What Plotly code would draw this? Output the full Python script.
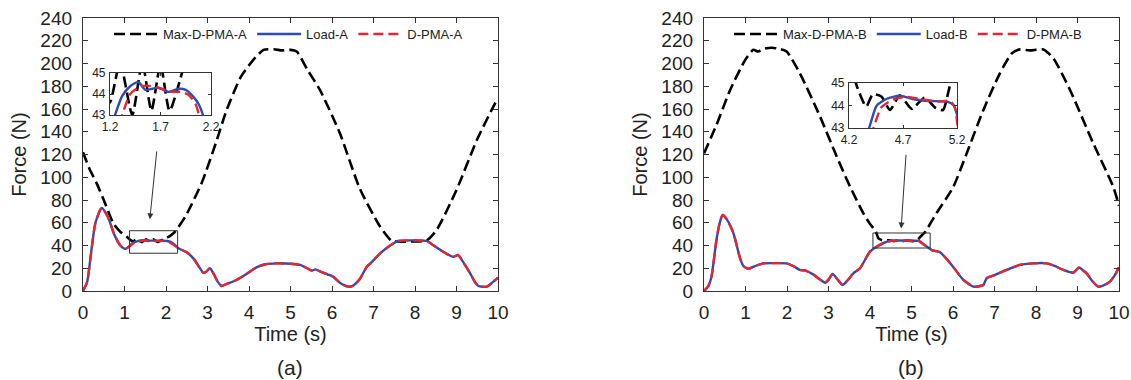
import plotly.graph_objects as go

# ---------------- data ----------------
# Panel (a)
t_load_a = [0.0, 0.1, 0.2, 0.3, 0.45, 0.6, 0.75, 0.9, 1.02, 1.12, 1.2, 1.25, 1.32, 1.4, 1.48, 1.55,
            1.62, 1.68, 1.78, 1.88, 1.95, 2.02, 2.08, 2.12, 2.2, 2.3, 2.5, 2.66, 2.8, 2.9, 2.97,
            3.06, 3.15, 3.25, 3.34, 3.45, 3.7, 3.9, 4.18, 4.4, 4.67, 5.0, 5.23, 5.4, 5.51, 5.6,
            5.75, 5.9, 6.03, 6.2, 6.39, 6.5, 6.6, 6.67, 6.84, 6.92, 7.16, 7.4, 7.6, 7.9, 8.28,
            8.45, 8.64, 8.8, 8.92, 9.04, 9.15, 9.33, 9.45, 9.53, 9.73, 9.85, 10.0]
load_a = [0, 8, 35, 60, 73, 65, 50, 40, 37, 39.5, 42.2, 43.0, 43.9, 44.37, 44.57, 44.2,
          44.25, 44.3, 44.1, 44.25, 44.2, 43.9, 43.5, 43.0, 41.0, 37.5, 34, 28.7, 21, 16, 17,
          20, 15, 8, 4.4, 6, 9.7, 14, 20.8, 23.5, 24.3, 24, 22.9, 20, 17.9, 19,
          16.5, 14.5, 12.6, 7, 3.8, 4.5, 7.5, 10.5, 21.4, 24, 33, 40, 44, 44.5, 44,
          40, 35.4, 32, 30, 31.6, 26, 15.5, 7.5, 4.4, 3.8, 7, 11.7]

t_dpma_a = [0.0, 0.1, 0.2, 0.3, 0.45, 0.6, 0.75, 0.9, 1.02, 1.12, 1.2, 1.25, 1.32, 1.4, 1.5, 1.57,
            1.7, 1.82, 1.9, 1.98, 2.05, 2.08, 2.15, 2.3, 2.5, 2.66, 2.8, 2.9, 2.97,
            3.06, 3.15, 3.25, 3.34, 3.45, 3.7, 3.9, 4.18, 4.4, 4.67, 5.0, 5.23, 5.4, 5.51, 5.6,
            5.75, 5.9, 6.03, 6.2, 6.39, 6.5, 6.6, 6.67, 6.84, 6.92, 7.16, 7.4, 7.6, 7.9, 8.28,
            8.45, 8.64, 8.8, 8.92, 9.04, 9.15, 9.33, 9.45, 9.53, 9.73, 9.85, 10.0]
dpma_a = [0, 8, 35, 60, 73, 65, 50, 40, 37, 39.2, 41.5, 42.2, 43.0, 44.0, 44.35, 44.4,
          44.27, 44.1, 44.1, 43.95, 43.5, 43.0, 41.3, 37.5, 34, 28.7, 21, 16, 17,
          20, 15, 8, 4.4, 6, 9.7, 14, 20.8, 23.5, 24.3, 24, 22.9, 20, 17.9, 19,
          16.5, 14.5, 12.6, 7, 3.8, 4.5, 7.5, 10.5, 21.4, 24, 33, 40, 44, 44.5, 44,
          40, 35.4, 32, 30, 31.6, 26, 15.5, 7.5, 4.4, 3.8, 7, 11.7]

t_max_a = [0.0, 0.15, 0.33, 0.5, 0.73, 0.9, 1.05, 1.12, 1.2, 1.3, 1.42, 1.52, 1.61, 1.7, 1.79,
           1.93, 2.0, 2.1, 2.2, 2.46, 2.86, 3.2, 3.46, 3.8, 4.1, 4.35, 4.6, 4.8, 5.0, 5.15,
           5.4, 5.71, 6.19, 6.67, 7.16, 7.44, 7.6, 7.9, 8.28, 8.52, 9.0, 9.49, 9.93, 10.0]
max_a = [122, 108, 94.6, 80, 59.5, 52, 48, 45.5, 43.6, 45.5, 43.0, 45.5, 43.2, 45.4, 43.2,
         45.3, 46.5, 48.5, 51.5, 65, 95, 130, 159, 188, 203, 212, 212.5, 211.5, 212, 210.5,
         195, 176.7, 138.6, 90, 56.5, 44, 43.5, 43.5, 44.5, 53.6, 88.8, 132.7, 165, 169]

# Panel (b)
t_load_b = [0.0, 0.1, 0.18, 0.3, 0.38, 0.45, 0.55, 0.71, 0.87, 0.95, 1.07, 1.2, 1.43, 1.7, 1.99,
            2.15, 2.31, 2.45, 2.63, 2.8, 2.92, 3.0, 3.1, 3.2, 3.34, 3.45, 3.6, 3.76, 4.0, 4.2,
            4.3, 4.386, 4.457, 4.55, 4.67, 4.8, 4.95, 5.11, 5.17, 5.2, 5.25, 5.35, 5.49, 5.6,
            5.69, 5.85, 6.0, 6.25, 6.49, 6.6, 6.73, 6.81, 7.0, 7.29, 7.61, 7.93, 8.26, 8.45,
            8.66, 8.9, 9.04, 9.12, 9.22, 9.35, 9.5, 9.6, 9.78, 9.9, 10.0]
load_b = [0, 4, 12.6, 44.8, 60, 66.8, 63, 50.7, 28.7, 22, 19.5, 21.5, 24.3, 24.5, 24.3,
          22, 18.5, 18, 14.6, 10, 7.3, 10, 15, 11, 5.3, 9, 15.5, 20, 34.6, 40,
          42, 43, 44.0, 44.3, 44.43, 44.28, 44.2, 44.17, 44.0, 43.6, 42.5, 39.5, 36, 35,
          34, 28, 21.4, 9.7, 3.8, 4, 5.3, 11.2, 14, 18.5, 22.9, 24.3, 24.3, 22,
          18.5, 16.1, 20.8, 18.5, 15.5, 9, 3.8, 4.5, 8.2, 14, 20.8]

t_dpma_b = [0.0, 0.1, 0.18, 0.3, 0.38, 0.45, 0.55, 0.71, 0.87, 0.95, 1.07, 1.2, 1.43, 1.7, 1.99,
            2.15, 2.31, 2.45, 2.63, 2.8, 2.92, 3.0, 3.1, 3.2, 3.34, 3.45, 3.6, 3.76, 4.0, 4.2,
            4.3, 4.426, 4.5, 4.61, 4.74, 4.87, 5.02, 5.14, 5.185, 5.2, 5.25, 5.35, 5.49, 5.6,
            5.69, 5.85, 6.0, 6.25, 6.49, 6.6, 6.73, 6.81, 7.0, 7.29, 7.61, 7.93, 8.26, 8.45,
            8.66, 8.9, 9.04, 9.12, 9.22, 9.35, 9.5, 9.6, 9.78, 9.9, 10.0]
dpma_b = [0, 4, 12.6, 44.8, 60, 66.8, 63, 50.7, 28.7, 22, 19.5, 21.5, 24.3, 24.5, 24.3,
          22, 18.5, 18, 14.6, 10, 7.3, 10, 15, 11, 5.3, 9, 15.5, 20, 34.6, 39.5,
          41.5, 43, 43.92, 44.27, 44.38, 44.28, 44.17, 44.2, 43.85, 43.3, 42, 39.5, 36, 35,
          34, 28, 21.4, 9.7, 3.8, 4, 5.3, 11.2, 14, 18.5, 22.9, 24.3, 24.3, 22,
          18.5, 16.1, 20.8, 18.5, 15.5, 9, 3.8, 4.5, 8.2, 14, 20.8]

t_max_b = [0.0, 0.3, 0.63, 0.99, 1.19, 1.3, 1.45, 1.63, 1.8, 1.99, 2.31, 2.8, 3.2, 3.52, 3.84,
           4.0, 4.14, 4.2, 4.27, 4.36, 4.42, 4.5, 4.58, 4.67, 4.78, 4.9, 5.0, 5.07, 5.12, 5.16,
           5.25, 5.33, 5.6, 6.0, 6.33, 6.73, 7.13, 7.42, 7.61, 7.85, 8.18, 8.42, 8.82, 9.38,
           9.86, 10.0]
max_b = [121, 146, 176.7, 203, 212, 210.5, 213, 213.9, 213, 210.5, 191.4, 153, 118, 91.7, 68.3,
         59, 52.2, 46.5, 44.9, 43.95, 44.5, 44.4, 43.8, 44.45, 43.85, 44.35, 43.9, 43.8, 44.6, 45.5,
         49, 52, 68.3, 91, 121, 159, 191.4, 209, 212.4, 211.5, 212.4, 204.5, 176.7, 129.8,
         91.7, 75]

x_ticks = list(range(0, 11))
y_ticks = list(range(0, 241, 20))
inset_a_ticks = [1.2, 1.7, 2.2]
inset_b_ticks = [4.2, 4.7, 5.2]
inset_y_ticks = [43, 44, 45]

# ---------------- styling ----------------
FONT = "Liberation Sans, Arial, sans-serif"
TXT = "#222222"
AX = "#333333"
BLUE = "#2B4CB3"
RED = "#E52630"
BLACK = "#000000"
W, H = 1131, 380

def px_x(p):
    return p / W

def px_y(p):
    return 1 - p / H

fig = go.Figure()

def add_series(xa, ya, suffix, t_max, v_max, t_load, v_load, t_dp, v_dp, legend, show):
    fig.add_trace(go.Scatter(x=t_max, y=v_max, mode="lines", name="Max-D-PMA-" + suffix,
                             line=dict(color=BLACK, width=2.6, dash="11px,5px", shape="spline", smoothing=0.6),
                             xaxis=xa, yaxis=ya, legend=legend, showlegend=show))
    fig.add_trace(go.Scatter(x=t_load, y=v_load, mode="lines", name="Load-" + suffix,
                             line=dict(color=BLUE, width=2.4, shape="spline", smoothing=0.6),
                             xaxis=xa, yaxis=ya, legend=legend, showlegend=show))
    fig.add_trace(go.Scatter(x=t_dp, y=v_dp, mode="lines", name="D-PMA-" + suffix,
                             line=dict(color=RED, width=2.4, dash="10px,5px", shape="spline", smoothing=0.6),
                             xaxis=xa, yaxis=ya, legend=legend, showlegend=show))

add_series("x", "y", "A", t_max_a, max_a, t_load_a, load_a, t_dpma_a, dpma_a, "legend", True)
add_series("x2", "y2", "B", t_max_b, max_b, t_load_b, load_b, t_dpma_b, dpma_b, "legend2", True)
add_series("x3", "y3", "A", t_max_a, max_a, t_load_a, load_a, t_dpma_a, dpma_a, "legend", False)
add_series("x4", "y4", "B", t_max_b, max_b, t_load_b, load_b, t_dpma_b, dpma_b, "legend2", False)

main_ax = dict(showline=True, linecolor=AX, linewidth=1.3, mirror="allticks", ticks="inside",
               ticklen=5, tickwidth=1.2, tickcolor=AX, showgrid=False, zeroline=False,
               automargin=False,
               tickfont=dict(family=FONT, size=19, color=TXT))
inset_ax = dict(showline=True, linecolor=AX, linewidth=1.1, mirror="allticks", ticks="inside",
                ticklen=3, tickwidth=1, tickcolor=AX, showgrid=False, zeroline=False,
                automargin=False,
                tickfont=dict(family=FONT, size=12, color=TXT), ticklabelstandoff=1)

dom_a = [px_x(83), px_x(498)]
dom_b = [px_x(704), px_x(1119)]
dom_y = [px_y(291), px_y(18)]

xt = dict(text="Time (s)", font=dict(family=FONT, size=20, color=TXT), standoff=4)
yt = dict(text="Force (N)", font=dict(family=FONT, size=20, color=TXT), standoff=8)

fig.update_layout(
    width=W, height=H, margin=dict(l=0, r=0, t=0, b=0, autoexpand=False),
    paper_bgcolor="white", plot_bgcolor="rgba(0,0,0,0)",
    font=dict(family=FONT, color=TXT),
    xaxis=dict(main_ax, domain=dom_a, anchor="y", range=[0, 10], tickvals=x_ticks, title=xt, ticklabelstandoff=4),
    yaxis=dict(main_ax, domain=dom_y, anchor="x", range=[0, 240], tickvals=y_ticks, title=yt, ticklabelstandoff=6),
    xaxis2=dict(main_ax, domain=dom_b, anchor="y2", range=[0, 10], tickvals=x_ticks, title=xt, ticklabelstandoff=4),
    yaxis2=dict(main_ax, domain=dom_y, anchor="x2", range=[0, 240], tickvals=y_ticks, title=yt, ticklabelstandoff=6),
    xaxis3=dict(inset_ax, domain=[px_x(110), px_x(211)], anchor="y3", range=[1.2, 2.2], tickvals=inset_a_ticks),
    yaxis3=dict(inset_ax, domain=[px_y(115), px_y(73)], anchor="x3", range=[43, 45], tickvals=inset_y_ticks),
    xaxis4=dict(inset_ax, domain=[px_x(849), px_x(957)], anchor="y4", range=[4.2, 5.2], tickvals=inset_b_ticks),
    yaxis4=dict(inset_ax, domain=[px_y(128), px_y(83)], anchor="x4", range=[43, 45], tickvals=inset_y_ticks),
    legend=dict(orientation="h", x=px_x(109), y=px_y(34), xanchor="left", yanchor="middle",
                bgcolor="rgba(0,0,0,0)", font=dict(family=FONT, size=13, color=TXT),
                itemwidth=44, tracegroupgap=0),
    legend2=dict(orientation="h", x=px_x(729), y=px_y(34), xanchor="left", yanchor="middle",
                 bgcolor="rgba(0,0,0,0)", font=dict(family=FONT, size=13, color=TXT),
                 itemwidth=44, tracegroupgap=0),
    showlegend=True,
)

# zoom rectangles on the main plots
fig.add_shape(type="rect", xref="x", yref="y", x0=1.12, x1=2.28, y0=33.2, y1=53,
              line=dict(color=AX, width=1))
fig.add_shape(type="rect", xref="x2", yref="y2", x0=4.07, x1=5.45, y0=37.8, y1=51,
              line=dict(color=AX, width=1))

# arrows pointing from insets to rectangles
fig.add_annotation(x=1.61, y=63, ax=1.78, ay=124, xref="x", yref="y", axref="x", ayref="y",
                   showarrow=True, arrowhead=2, arrowsize=1.2, arrowwidth=1, arrowcolor=AX, text="")
fig.add_annotation(x=4.75, y=55, ax=4.87, ay=121, xref="x2", yref="y2", axref="x2", ayref="y2",
                   showarrow=True, arrowhead=2, arrowsize=1.2, arrowwidth=1, arrowcolor=AX, text="")

# panel labels
fig.add_annotation(x=px_x(290), y=px_y(367), xref="paper", yref="paper", text="(a)", showarrow=False,
                   font=dict(family=FONT, size=21, color=TXT), xanchor="center", yanchor="middle")
fig.add_annotation(x=px_x(911), y=px_y(367), xref="paper", yref="paper", text="(b)", showarrow=False,
                   font=dict(family=FONT, size=21, color=TXT), xanchor="center", yanchor="middle")

fig.write_html("out.html", config={"displayModeBar": False},
               post_script="document.body.style.margin='0px';document.body.style.overflow='hidden';")
